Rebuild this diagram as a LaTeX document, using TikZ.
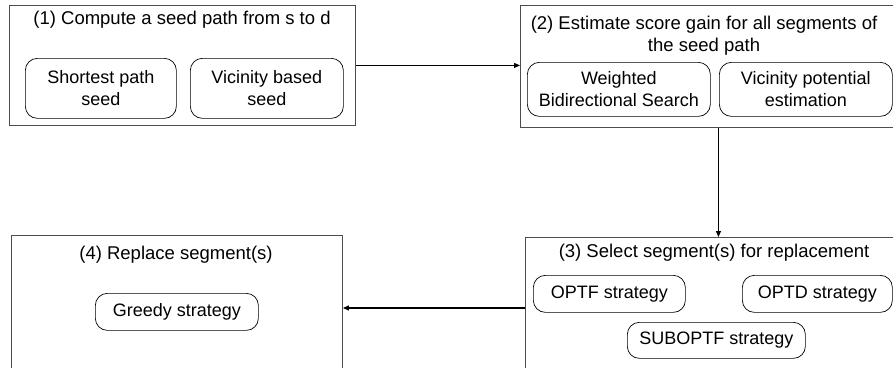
\documentclass[tikz,border=0pt]{standalone}
\usepackage{fontspec}
\setmainfont{Liberation Sans}
\usetikzlibrary{arrows.meta}
\begin{document}
\begin{tikzpicture}[x=1pt,y=-1pt,
  font=\fontsize{18}{22}\selectfont,
  outerbox/.style={draw=black!70,line width=0.9pt,inner sep=0pt,anchor=north west},
  subbox/.style={draw=black,line width=0.7pt,rounded corners=12pt,inner sep=0pt,align=center,anchor=north west},
  ttl/.style={inner sep=0pt,align=center,font=\fontsize{18.5}{22}\selectfont},
  conn/.style={draw=black,line width=1.1pt,-{Triangle[length=6pt,width=5pt]}}]
\useasboundingbox (0,0) rectangle (893,367);
\begin{scope}
\clip (0,0) rectangle (893,367);
\node[outerbox,minimum width=346pt,minimum height=120pt] (B1) at (9,5) {};
\node[outerbox,minimum width=396pt,minimum height=122pt] (B2) at (520,5) {};
\node[outerbox,minimum width=396pt,minimum height=170pt] (B3) at (525,237) {};
\node[outerbox,minimum width=331pt,minimum height=170pt] (B4) at (11,235) {};
\end{scope}
% box 1
\node[ttl] (T1) at (182,20) {(1) Compute a seed path from s to d};
\node[subbox,minimum width=151pt,minimum height=60pt] (S1) at (25,58) {Shortest path\\seed};
\node[subbox,minimum width=153pt,minimum height=60pt] (S2) at (190,58) {Vicinity based\\seed};
% box 2
\node[ttl] (T2) at (704,36) {(2) Estimate score gain for all segments of\\the seed path};
\node[subbox,minimum width=183pt,minimum height=54pt] (W) at (527,62) {Weighted\\Bidirectional Search};
\node[subbox,minimum width=173pt,minimum height=54pt] (V) at (719,62) {Vicinity potential\\estimation};
% box 3
\node[ttl] (T3) at (714,253) {(3) Select segment(s) for replacement};
\node[subbox,minimum width=152pt,minimum height=37pt] (OF) at (533,275) {OPTF strategy};
\node[subbox,minimum width=150pt,minimum height=37pt] (OD) at (742,275) {OPTD strategy};
\node[subbox,minimum width=178pt,minimum height=36pt] (SO) at (627,322) {SUBOPTF strategy};
% box 4
\node[ttl] (T4) at (176,255) {(4) Replace segment(s)};
\node[subbox,minimum width=163pt,minimum height=37pt] (G) at (95,293) {Greedy strategy};
% connectors
\draw[conn] (B1.east) -- (B1.east -| B2.west);
\draw[conn] (B2.south) -- (B2.south |- B3.north);
\coordinate (a3) at (525,308);
\draw[conn] (a3) -- (a3 -| B4.east);
\end{tikzpicture}
\end{document}
